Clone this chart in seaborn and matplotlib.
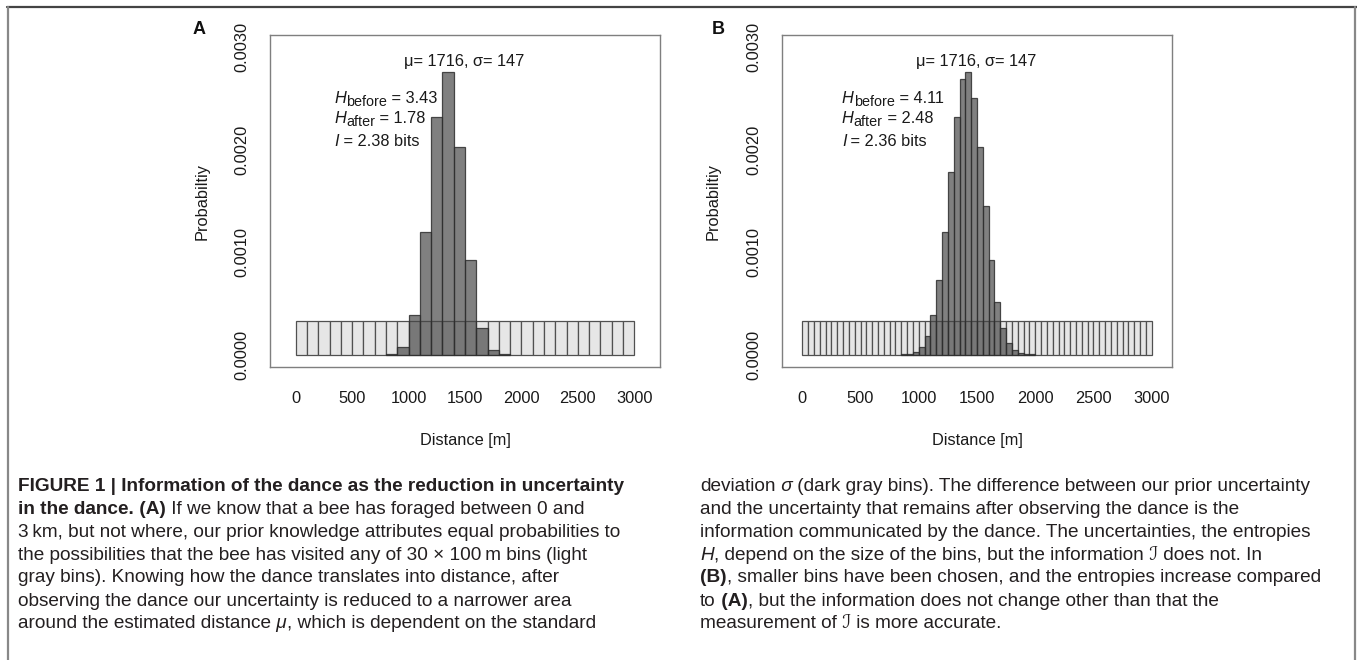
import numpy as np
import pandas as pd
import matplotlib
matplotlib.use("Agg")
import matplotlib.pyplot as plt
import seaborn as sns
from matplotlib.lines import Line2D
from matplotlib.transforms import offset_copy

# ---------------- data ----------------
x_ticks = [0, 500, 1000, 1500, 2000, 2500, 3000]
x_tick_labels = ["0", "500", "1000", "1500", "2000", "2500", "3000"]
y_ticks = [0.0, 0.0005, 0.0010, 0.0015, 0.0020, 0.0025, 0.0030]
y_tick_labels = ["0.0000", "", "0.0010", "", "0.0020", "", "0.0030"]

# panel A : 100 m bins
prior_a_start, prior_a_width = 0, 100
prior_a = [0.000333] * 30
post_a_start = 800
post_a = [0.000007, 0.000075, 0.000388, 0.00120, 0.00232, 0.00276,
          0.00203, 0.00092, 0.00026, 0.00005, 0.000007]

# panel B : 50 m bins
prior_b_start, prior_b_width = 0, 50
prior_b = [0.000333] * 60
post_b_start = 850
post_b = [0.000003, 0.00001, 0.00003, 0.000075, 0.00018, 0.00039, 0.000726,
          0.00120, 0.00178, 0.00232, 0.00269, 0.00276, 0.00251, 0.00203,
          0.00145, 0.00092, 0.000514, 0.00026, 0.000114, 0.00005, 0.000016,
          0.000007, 0.000003]

panel_labels = ["A", "B"]
mu_sigma_text = "\u03bc= 1716, \u03c3= 147"
stats_a = ["3.43", "1.78", "2.38"]
stats_b = ["4.11", "2.48", "2.36"]
y_label = "Probabiltiy"
x_label = "Distance [m]"

# ---------------- style ----------------
sns.set_style("white")
plt.rcParams["font.family"] = ["Liberation Sans", "DejaVu Sans"]

W, H = 1357, 660
fig = plt.figure(figsize=(W / 100, H / 100), dpi=100)
fig.patch.set_facecolor("white")
renderer = fig.canvas.get_renderer()


def px_axes(l, t, r, b):
    return fig.add_axes([l / W, 1 - b / H, (r - l) / W, (b - t) / H])


LIGHT_FACE = "#e6e6e6"
LIGHT_EDGE = "#505050"
DARK_FACE = (0.28, 0.28, 0.28, 0.69)
DARK_EDGE = (0.18, 0.18, 0.18, 0.85)


def draw_hist(ax, start, width, vals, face, edge):
    edges = [float(start + width * k) for k in range(len(vals) + 1)]
    centers = [e + width / 2.0 for e in edges[:-1]]
    df = pd.DataFrame({"distance": centers, "prob": list(vals)})
    n0 = len(ax.patches)
    sns.histplot(data=df, x="distance", weights="prob", bins=edges, ax=ax,
                 stat="count", element="bars", fill=True, legend=False)
    for p in ax.patches[n0:]:
        p.set_alpha(None)
        p.set_facecolor(face)
        p.set_edgecolor(edge)
        p.set_linewidth(0.9)


panels = [
    dict(box=(270, 35, 660, 367), xlim=(-228, 3228), prior=(prior_a_start, prior_a_width, prior_a),
         post=(post_a_start, prior_a_width, post_a), stats=stats_a, label_px=(199, 30), ylab_x=202),
    dict(box=(782, 35, 1172, 367), xlim=(-174, 3174), prior=(prior_b_start, prior_b_width, prior_b),
         post=(post_b_start, prior_b_width, post_b), stats=stats_b, label_px=(718, 30), ylab_x=713),
]

GRAY = "#7f7f7f"
TXT = "#1a1a1a"
FS = 11.8
SUB_FS = FS * 0.88


def stat_line(ax, x, y, parts):
    """parts: list of (text, size, style, dy_px); drawn left to right."""
    dx = 0.0
    for txt, size, style, dy in parts:
        tr = offset_copy(ax.transData, fig=fig, x=dx * 0.72, y=-dy * 0.72, units="points")
        tt = ax.text(x, y, txt, transform=tr, ha="left", va="baseline",
                     fontsize=size, fontstyle=style, color=TXT)
        dx += tt.get_window_extent(renderer).width


for i, pnl in enumerate(panels):
    l, t, r, b = pnl["box"]
    ax = px_axes(l, t, r, b)
    s, w, v = pnl["prior"]
    draw_hist(ax, s, w, v, LIGHT_FACE, LIGHT_EDGE)
    s, w, v = pnl["post"]
    draw_hist(ax, s, w, v, DARK_FACE, DARK_EDGE)

    ax.set_xlim(*pnl["xlim"])
    ax.set_ylim(-0.00012, 0.00312)
    ax.set_xticks(x_ticks)
    ax.set_xticklabels(x_tick_labels)
    ax.set_yticks(y_ticks)
    ax.set_yticklabels(y_tick_labels, rotation=90, va="center", ha="center")
    ax.tick_params(direction="out", length=7.2, width=0.9, color=GRAY,
                   labelsize=FS, labelcolor=TXT)
    ax.tick_params(axis="y", pad=13.2)
    ax.tick_params(axis="x", pad=10)
    for sp in ax.spines.values():
        sp.set_visible(True)
        sp.set_color(GRAY)
        sp.set_linewidth(1.0)

    ax.set_ylabel(y_label, fontsize=FS, color=TXT, va="center")
    ax.yaxis.set_label_coords((pnl["ylab_x"] - l) / (r - l), 0.5)
    ax.set_xlabel(x_label, fontsize=FS, color=TXT, va="center")
    ax.xaxis.set_label_coords(0.5, (b - 440) / (b - t))

    # annotations
    ax.text(1490, 0.00286, mu_sigma_text, ha="center", va="center",
            fontsize=FS, color=TXT)
    st = pnl["stats"]
    stat_line(ax, 340, 0.002461, [("H", FS, "italic", 0), ("before", SUB_FS, "normal", 3.5),
                                  (" = " + st[0], FS, "normal", 0)])
    stat_line(ax, 340, 0.002266, [("H", FS, "italic", 0), ("after", SUB_FS, "normal", 3.5),
                                  (" = " + st[1], FS, "normal", 0)])
    stat_line(ax, 340, 0.002041, [("I", FS, "italic", 0),
                                  (" = " + st[2] + " bits", FS, "normal", 0)])

    lx, ly = pnl["label_px"]
    fig.text(lx / W, 1 - ly / H, panel_labels[i], ha="center", va="center",
             fontsize=13, fontweight="bold", color="#111111")

# ---------------- frame lines ----------------
fig.add_artist(Line2D([7 / W, 1.0], [1 - 6.5 / H, 1 - 6.5 / H], transform=fig.transFigure,
                      color="#444444", lw=1.6))
fig.add_artist(Line2D([7.5 / W, 7.5 / W], [0, 1 - 6.5 / H], transform=fig.transFigure,
                      color="#888888", lw=1.6))
fig.add_artist(Line2D([1354.5 / W, 1354.5 / W], [0, 1 - 6.5 / H], transform=fig.transFigure,
                      color="#888888", lw=1.6))

# ---------------- caption ----------------
CAP_FAM = ["Liberation Sans", "DejaVu Sans"]
CAP_COL = "#231f20"
N, B, I = "normal", "bold", "italic"
SCRIPT_I = "\u2110"

left_lines = [
    [("FIGURE 1 | Information of the dance as the reduction in uncertainty", B, N)],
    [("in the dance.", B, N), (" (A)", B, N), (" If we know that a bee has foraged between 0 and", N, N)],
    [("3\u2009km, but not where, our prior knowledge attributes equal probabilities to", N, N)],
    [("the possibilities that the bee has visited any of 30 \u00d7 100\u2009m bins (light", N, N)],
    [("gray bins). Knowing how the dance translates into distance, after", N, N)],
    [("observing the dance our uncertainty is reduced to a narrower area", N, N)],
    [("around the estimated distance", N, N), (" \u03bc", N, I), (", which is dependent on the standard", N, N)],
]
right_lines = [
    [("deviation", N, N), (" \u03c3", N, I), (" (dark gray bins). The difference between our prior uncertainty", N, N)],
    [("and the uncertainty that remains after observing the dance is the", N, N)],
    [("information communicated by the dance. The uncertainties, the entropies", N, N)],
    [("H", N, I), (", depend on the size of the bins, but the information", N, N), (" " + SCRIPT_I, N, N), (" does not. In", N, N)],
    [("(B)", B, N), (", smaller bins have been chosen, and the entropies increase compared", N, N)],
    [("to", N, N), (" (A)", B, N), (", but the information does not change other than that the", N, N)],
    [("measurement of", N, N), (" " + SCRIPT_I, N, N), (" is more accurate.", N, N)],
]

baselines = [491, 514, 537, 559.5, 582.5, 605.5, 628.5]


def draw_line(x0, ybase, pieces, size, draw=True):
    x = x0
    made = []
    for txt, weight, style in pieces:
        tt = fig.text(x / W, 1 - ybase / H, txt, fontsize=size, fontweight=weight,
                      fontstyle=style, family=CAP_FAM, ha="left", va="baseline",
                      color=CAP_COL)
        x += tt.get_window_extent(renderer).width
        made.append(tt)
    if not draw:
        for tt in made:
            tt.remove()
    return x - x0


# fit caption size so that the first line of the right column spans 700 -> 1315 px
probe_w = draw_line(0, 0, right_lines[0], 12, draw=False)
CAP_FS = 12 * 615.0 / probe_w

for yb, pcs in zip(baselines, left_lines):
    draw_line(18, yb, pcs, CAP_FS)
for yb, pcs in zip(baselines, right_lines):
    draw_line(700, yb, pcs, CAP_FS)

fig.savefig("out.png", dpi=100, facecolor="white")
